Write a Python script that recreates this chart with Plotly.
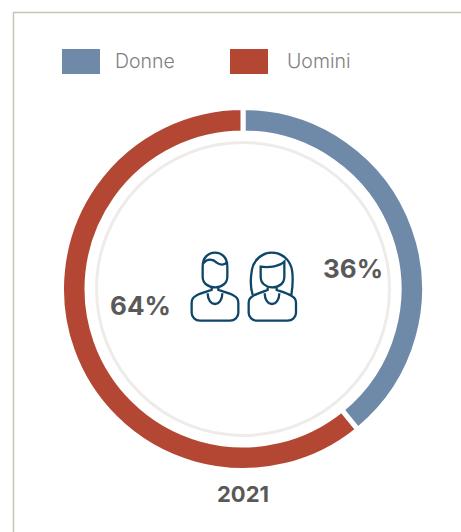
import re
import plotly.graph_objects as go

W, H = 461, 532
categories = ["Donne", "Uomini"]
drawn_shares = [39.1, 60.9]   # arc sizes as they appear in the picture
printed_labels = ["36%", "64%"]
year_label = "2021"
colors = ["#6f8aa8", "#b34733"]
TXT = "#595959"
ICON = "#0e4668"
FONT = "Inter"

def px(x): return x / W
def py(y): return 1 - y / H

CX, CY, R = 243, 289, 181.5
fig = go.Figure(go.Pie(
    labels=categories, values=drawn_shares, sort=False, direction="clockwise", rotation=0,
    hole=156 / 181.5, textinfo="none", hoverinfo="label",
    marker=dict(colors=colors, line=dict(color="white", width=5)),
    domain=dict(x=[px(CX - R), px(CX + R)], y=[py(CY + R), py(CY - R)]),
    showlegend=False,
))

def zoom_path(d):
    # icon outline given in crop pixels (3x, origin 170,230) -> paper coords
    toks = re.findall(r"[A-Za-z]|-?[\d.]+", d)
    out, is_x = [], True
    for t in toks:
        if t.isalpha():
            out.append(t); is_x = True
        else:
            v = float(t) / 3
            out.append(f"{px(v + 170):.5f}" if is_x else f"{py(v + 230):.5f}")
            is_x = not is_x
    return " ".join(out)

icon_paths = [
    # man head
    "M 98 110 C 98 82 115 68 135 68 C 155 68 172 82 172 110 L 172 140 C 172 160 155 172 135 172 C 115 172 98 160 98 140 Z",
    # man hair
    "M 100 100 C 112 85 128 86 140 98 C 150 106 165 106 172 95",
    # man body
    "M 125 172 L 125 180 C 105 186 90 190 78 197 C 68 202 65 210 65 218 L 65 248 C 65 262 76 272 90 272 L 180 272 C 194 272 205 262 205 248 L 205 218 C 205 210 202 202 192 197 C 180 190 165 186 145 180 L 145 172",
    # man collar
    "M 113 190 C 113 208 122 222 135 222 C 148 222 157 208 157 190",
    # woman hair
    "M 248 195 C 240 170 242 140 246 118 C 252 88 278 68 305 68 C 335 68 360 88 366 120 C 370 145 368 170 364 195",
    # woman face
    "M 272 110 L 272 140 C 272 160 288 172 307 172 C 327 172 343 160 343 140 L 343 95 C 330 108 300 114 272 110 Z",
    # woman body
    "M 293 172 L 293 180 C 275 186 262 190 250 197 C 240 202 236 210 236 218 L 236 248 C 236 262 247 272 261 272 L 353 272 C 367 272 378 262 378 248 L 378 218 C 378 210 374 202 364 197 C 352 190 338 186 320 180 L 320 172",
    # woman collar
    "M 284 190 C 284 208 293 222 306 222 C 319 222 328 208 328 190",
]

shapes = [
    # frame
    dict(type="line", xref="paper", yref="paper", x0=px(13.5), x1=px(13.5), y0=py(12), y1=py(532),
         line=dict(color="#c8c3b8", width=1.5)),
    dict(type="line", xref="paper", yref="paper", x0=px(13), x1=px(461), y0=py(12.5), y1=py(12.5),
         line=dict(color="#c8c3b8", width=1.5)),
    # inner ring
    dict(type="circle", xref="paper", yref="paper", x0=px(CX - 146.5), x1=px(CX + 146.5),
         y0=py(CY + 146.5), y1=py(CY - 146.5), line=dict(color="#eeece8", width=3)),
    # legend swatches
    dict(type="rect", xref="paper", yref="paper", x0=px(62), x1=px(100), y0=py(74), y1=py(49),
         fillcolor=colors[0], line=dict(width=0)),
    dict(type="rect", xref="paper", yref="paper", x0=px(230), x1=px(268), y0=py(74), y1=py(49),
         fillcolor=colors[1], line=dict(width=0)),
]
for p in icon_paths:
    shapes.append(dict(type="path", xref="paper", yref="paper", path=zoom_path(p),
                       line=dict(color=ICON, width=2.3), layer="above"))

def label(text, x, y, size, color, weight, anchor="center"):
    return dict(text=text, x=px(x), y=py(y), xref="paper", yref="paper", showarrow=False,
                xanchor=anchor, yanchor="middle",
                font=dict(family=FONT, size=size, color=color, weight=weight))

annotations = [
    label(categories[0], 113, 60.5, 19.5, "#808080", 300, "left"),
    label(categories[1], 285, 60.5, 19.5, "#808080", 300, "left"),
    label(printed_labels[0], 353, 268, 26, TXT, 700),
    label(printed_labels[1], 140, 305, 26, TXT, 700),
    label(year_label, 243, 494, 22, TXT, 700),
]

fig.update_layout(width=W, height=H, margin=dict(l=0, r=0, t=0, b=0), autosize=False,
                  paper_bgcolor="white", plot_bgcolor="white", shapes=shapes, annotations=annotations)
fig.write_html("out.html", config={"displayModeBar": False},
               post_script="document.body.style.margin='0';document.body.style.overflow='hidden';")
